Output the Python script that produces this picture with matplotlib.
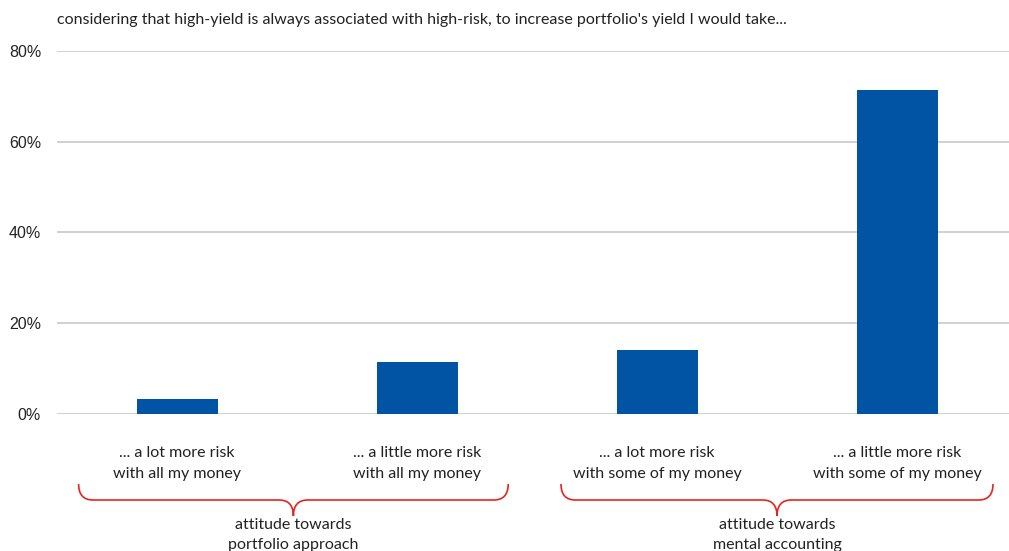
import matplotlib
matplotlib.use("Agg")
import matplotlib.pyplot as plt
from matplotlib.path import Path
from matplotlib.patches import PathPatch
import matplotlib.transforms as mtransforms

title = "considering that high-yield is always associated with high-risk, to increase portfolio's yield I would take..."
categories = ["... a lot more risk\nwith all my money",
              "... a little more risk\nwith all my money",
              "... a lot more risk\nwith some of my money",
              "... a little more risk\nwith some of my money"]
values = [3.4, 11.5, 14.0, 71.4]
yticks = [0, 20, 40, 60, 80]
ytick_labels = ["0%", "20%", "40%", "60%", "80%"]
groups = ["attitude towards\nportfolio approach", "attitude towards\nmental accounting"]
group_spans = [(-0.41, 1.38), (1.60, 3.40)]

W, H = 1009, 551
fig = plt.figure(figsize=(W / 100, H / 100), dpi=100)
ax = fig.add_axes([57 / W, 1 - 414 / H, (W - 57) / W, (414 - 51) / H])

x = list(range(len(values)))
ax.bar(x, values, width=0.3375, color="#0054a3", zorder=3)
ax.set_xlim(-0.5, 3.5 - 8 / 240)
ax.set_ylim(0, 80)
ax.set_yticks(yticks)
ax.set_yticklabels(ytick_labels, fontsize=11.5, family="Liberation Sans", color="#222222")
ax.tick_params(axis="y", length=0, pad=11.5)
ax.set_xticks([])
ax.grid(axis="y", color="#c8c8c8", linewidth=1.2, zorder=0)
for s in ax.spines.values():
    s.set_visible(False)

txtfont = ["Lato", "DejaVu Sans"]
fig.text(57 / W, 1 - 20 / H, title, fontsize=11.5, family=txtfont, color="#222222",
         ha="left", va="center")

trans = mtransforms.blended_transform_factory(ax.transData, fig.transFigure)
def fy(p):
    return 1 - p / H

for xi, lab in zip(x, categories):
    ax.text(xi, fy(463.5), lab, transform=trans, ha="center", va="center",
            fontsize=11.5, family=txtfont, color="#222222", linespacing=1.6)

r = 0.06
for (x0, x1), g in zip(group_spans, groups):
    xm = (x0 + x1) / 2
    y0, y1, y2 = fy(484), fy(500), fy(516)
    verts = [(x0, y0), (x0, y1), (x0 + r, y1),
             (xm - r, y1),
             (xm, y1), (xm, y2),
             (xm, y1), (xm + r, y1),
             (x1 - r, y1),
             (x1, y1), (x1, y0)]
    codes = [Path.MOVETO, Path.CURVE3, Path.CURVE3,
             Path.LINETO,
             Path.CURVE3, Path.CURVE3,
             Path.CURVE3, Path.CURVE3,
             Path.LINETO,
             Path.CURVE3, Path.CURVE3]
    ax.add_patch(PathPatch(Path(verts, codes), transform=trans, fill=False,
                           edgecolor="#e8231e", linewidth=1.2, clip_on=False))
    ax.text(xm, fy(535), g, transform=trans, ha="center", va="center",
            fontsize=11.5, family=txtfont, color="#222222", linespacing=1.55)

fig.savefig("out.png", dpi=100)
